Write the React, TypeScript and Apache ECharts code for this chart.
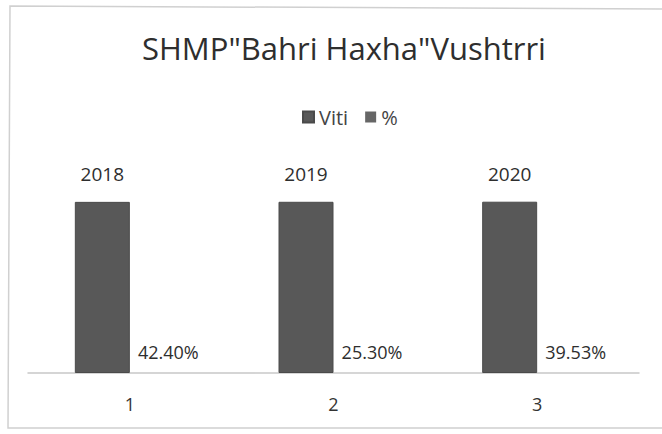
import React, { useEffect, useRef } from "react";
import * as echarts from "echarts";

const categories = ["1", "2", "3"];
const vitiValues = [2018, 2019, 2020];
const pctValues = [0.424, 0.253, 0.3953];
const titleText = 'SHMP"Bahri Haxha"Vushtrri';
const seriesNames = ["Viti", "%"];

export default function App() {
  const ref = useRef<HTMLDivElement>(null);
  useEffect(() => {
    document.body.style.margin = "0";
    const chart = echarts.init(ref.current!, null, { renderer: "svg" });
    const font = "Open Sans";
    chart.setOption({
      animation: false,
      backgroundColor: "#ffffff",
      textStyle: { fontFamily: font },
      title: {
        text: titleText,
        left: 137,
        top: 27,
        textStyle: { fontFamily: font, fontSize: 31, fontWeight: "normal", color: "#2e2e2e" },
      },
      legend: {
        data: seriesNames,
        top: 102,
        left: 297,
        itemWidth: 11,
        itemHeight: 11,
        itemGap: 17,
        icon: "rect",
        textStyle: { fontFamily: font, fontSize: 20, fontWeight: 500, color: "#444444" },
      },
      grid: { left: 28, right: 23, top: 161, bottom: 61 },
      xAxis: {
        type: "category",
        data: categories,
        axisLine: { lineStyle: { color: "#c8c8c8", width: 1.5 } },
        axisTick: { show: false },
        axisLabel: { fontFamily: font, fontSize: 18, color: "#333", margin: 22 },
      },
      yAxis: {
        type: "value",
        min: 0,
        max: 2500,
        show: false,
        splitLine: { show: false },
      },
      graphic: [
        {
          type: "polyline",
          shape: { points: [[662, 9], [10, 6], [8, 428], [662, 428]] },
          style: { stroke: "#d0d0d0", fill: "none", lineWidth: 1.5 },
          silent: true,
        },
      ],
      series: [
        {
          name: seriesNames[0],
          type: "bar",
          data: vitiValues,
          barGap: "0%",
          barCategoryGap: "46%",
          itemStyle: { color: "#585858", borderColor: "#4a4a4a", borderWidth: 1 },
          label: {
            show: true,
            position: "top",
            distance: 18,
            fontFamily: font,
            fontSize: 19,
            color: "#2e2e2e",
          },
        },
        {
          name: seriesNames[1],
          type: "bar",
          data: pctValues,
          itemStyle: { color: "#666666" },
          label: {
            show: true,
            position: "top",
            distance: 12,
            offset: [11, 0],
            fontFamily: font,
            fontSize: 18,
            color: "#2e2e2e",
            formatter: (p: any) => (p.value * 100).toFixed(2) + "%",
          },
        },
      ],
    });
    return () => chart.dispose();
  }, []);
  return <div ref={ref} style={{ width: 662, height: 434, position: "absolute", left: 0, top: 0 }} />;
}
